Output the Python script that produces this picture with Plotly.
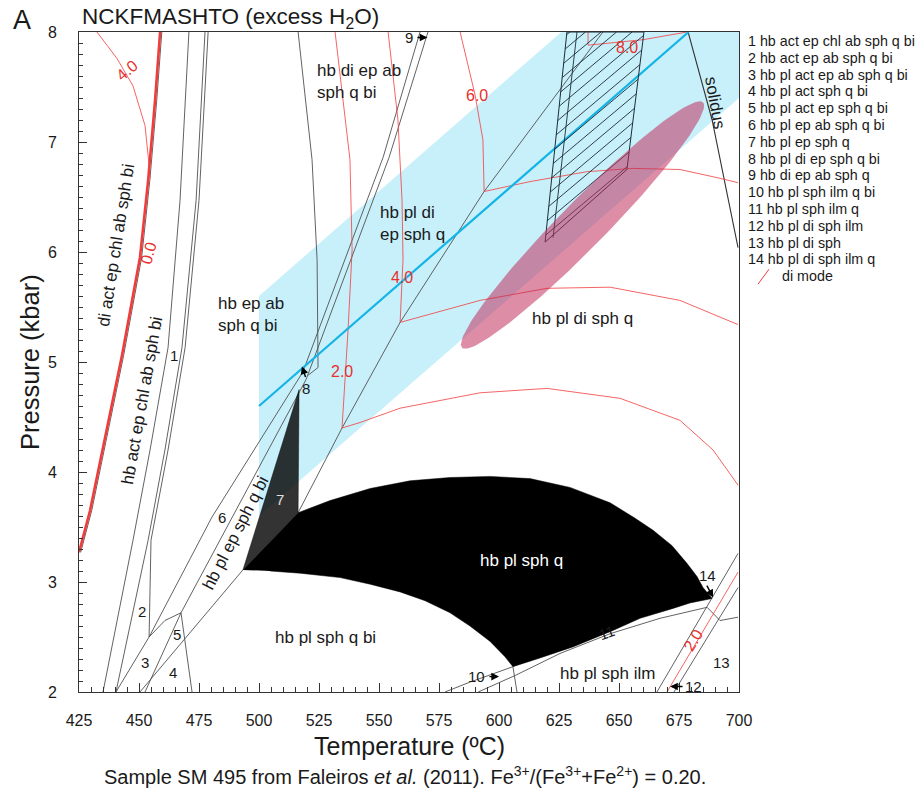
import numpy as np
import plotly.graph_objects as go

FONT = "Liberation Sans, Arial, sans-serif"

# ---------------- axes ----------------
T_MIN, T_MAX = 425, 700
P_MIN, P_MAX = 2, 8
T_TICKS = list(range(425, 701, 25))
P_TICKS = [2, 3, 4, 5, 6, 7, 8]

W, H = 922, 790
MARGIN = dict(l=79, r=183, t=32, b=98, pad=0)
PX_PER_T = (W - MARGIN["l"] - MARGIN["r"]) / (T_MAX - T_MIN)
PX_PER_P = (H - MARGIN["t"] - MARGIN["b"]) / (P_MAX - P_MIN)

# ---------------- shaded P-T band and its centre line ----------------
BAND_T = [500, 626, 700, 700, 500]
BAND_P = [5.6, 8.0, 8.0, 7.4, 3.6]
BAND_AXIS_T = [500, 679]
BAND_AXIS_P = [4.6, 8.0]

# ---------------- hb pl sph q field (black) ----------------
HPSQ_T = [493.3, 516.3, 529.6, 546.3, 562.9, 579.6, 596.3, 612.9, 629.6, 646.3, 656.7, 664.2, 672.1,
          678.3, 682.5, 685.0, 688.8,
          679.6, 672.5, 658.8, 647.5, 630.8, 617.1, 605.8,
          602.5, 596.3, 587.9, 579.6, 569.2, 558.8, 546.3, 533.8, 517.1, 504.6]
HPSQ_P = [3.11, 3.63, 3.74, 3.85, 3.92, 3.95, 3.96, 3.94, 3.86, 3.72, 3.58, 3.47, 3.33,
          3.17, 3.05, 2.95, 2.85,
          2.81, 2.76, 2.67, 2.56, 2.41, 2.31, 2.23,
          2.32, 2.46, 2.60, 2.72, 2.83, 2.91, 2.98, 3.04, 3.08, 3.10]

# field 7 (hb pl ep sph q)
F7_T = [493.3, 516.7, 516.3]
F7_P = [3.11, 4.75, 3.63]

# hatched field
HATCH_T = [628.3, 660.4, 653.3, 619.2]
HATCH_P = [8.0, 8.0, 6.75, 6.09]
HATCH_INNER_T = [632.5, 622.5]
HATCH_INNER_P = [8.0, 6.13]

# ellipse (long-axis end points)
ELL_END_T = [584.6, 685.0]
ELL_END_P = [5.13, 7.36]
ELL_HALF_WIDTH_PX = 23

# ---------------- phase boundaries ----------------
LA_T = [470.8, 467.1, 462.1, 454.6, 447.5, 435.0]
LA_P = [8.0, 6.47, 5.13, 4.20, 3.38, 2.0]
LB_T = [477.5, 473.8, 467.9, 460.8, 453.8, 440.4]
LB_P = [8.0, 6.47, 5.13, 4.20, 3.38, 2.0]
LC_T = [478.8, 475.0, 469.2, 462.1, 455.0, 454.2]
LC_P = [8.0, 6.47, 5.13, 4.20, 3.38, 2.5]
E1_T = [440.4, 454.2, 480.4, 518.3, 551.7, 567.1]
E1_P = [2.0, 2.5, 3.59, 4.91, 6.86, 8.0]
E2_T = [467.5, 488.8, 519.6, 554.2, 570.4]
E2_P = [2.72, 3.59, 4.84, 6.86, 8.0]
E3_T = [450.4, 493.3]
E3_P = [2.0, 3.11]
F1_T = [454.2, 460.8, 467.5]
F1_P = [2.5, 2.65, 2.72]
F2_T = [452.5, 467.5]
F2_P = [2.0, 2.72]
F3_T = [467.5, 472.1]
F3_P = [2.72, 2.0]
TOP_T = [516.3, 522.1, 524.2, 524.6, 520.5]
TOP_P = [8.0, 6.84, 5.93, 4.95, 4.88]
G_T = [516.3, 534.6, 558.8, 593.8, 643.3]
G_P = [3.63, 4.40, 5.36, 6.55, 8.0]
SOLIDUS_T = [678.8, 688.8, 699.6]
SOLIDUS_P = [8.0, 7.2, 6.04]
L11_T = [686.7, 667.1, 646.3, 625.4, 606.7, 591.3]
L11_P = [2.77, 2.67, 2.53, 2.35, 2.15, 2.0]
L10_T = [605.8, 587.9, 577.5]
L10_P = [2.23, 2.09, 2.0]
LV_T = [605.8, 607.5]
LV_P = [2.23, 2.0]
G1_T = [665.8, 699.6]
G1_P = [2.0, 3.26]
G2_T = [672.9, 699.6]
G2_P = [2.0, 2.95]
L13_T = [686.7, 692.1, 699.6]
L13_P = [2.77, 2.65, 2.68]

# ---------------- di mode contours ----------------
DI00_T = [458.8, 456.7, 453.8, 450.4, 442.9, 435.8, 429.6, 425.0]
DI00_P = [8.0, 7.38, 6.65, 5.95, 5.06, 4.29, 3.65, 3.27]
DI40A_T = [432.5, 440.8, 447.5, 452.5, 454.2, 454.6]
DI40A_P = [8.0, 7.76, 7.51, 7.15, 6.79, 6.67]
DI20_T = [531.7, 537.9, 538.8, 537.1, 534.6, 542.1, 558.8, 592.1, 620.0, 650.4, 675.4, 689.2, 699.6]
DI20_P = [8.0, 6.84, 6.02, 5.29, 4.40, 4.45, 4.58, 4.72, 4.76, 4.67, 4.47, 4.20, 3.88]
DI40_T = [553.8, 557.9, 559.6, 560.0, 558.8, 592.1, 620.0, 646.3, 675.4, 699.6]
DI40_P = [8.0, 7.2, 6.47, 5.93, 5.36, 5.56, 5.67, 5.68, 5.56, 5.34]
DI60_T = [583.8, 590.0, 593.3, 593.8, 612.9, 636.7, 655.8, 675.4, 692.1, 699.6]
DI60_P = [8.0, 7.43, 7.02, 6.55, 6.64, 6.73, 6.76, 6.75, 6.67, 6.63]
DI80_T = [637.1, 637.1, 660.0, 678.3]
DI80_P = [8.0, 7.88, 7.93, 8.0]
DI20B_T = [670.0, 699.6]
DI20B_P = [2.0, 3.09]

LEGEND_ITEMS = ["hb act ep chl ab sph q bi", "hb act ep ab sph q bi", "hb pl act ep ab sph q bi",
                "hb pl act sph q bi", "hb pl act ep sph q bi", "hb pl ep ab sph q bi",
                "hb pl ep sph q", "hb pl di ep sph q bi", "hb di ep ab sph q",
                "hb pl sph ilm q bi", "hb pl sph ilm q", "hb pl di sph ilm",
                "hb pl di sph", "hb pl di sph ilm q"]

BLUE_FILL = "#c8f0fa"
CYAN = "#14b4e6"
PINK = "rgba(190,40,86,0.53)"
GRAY = "#505050"
RED = "#f23c3c"
RED_TXT = "#e8302c"
HATCH_COL = "#1c2c38"
TXT = "#1a1a1a"

# hatch geometry (screen space)
HATCH_ANGLE_DEG = 40
HATCH_GAP_PX = 10

fig = go.Figure()


def poly(t, p, fill, line_color=None, width=0):
    fig.add_trace(go.Scatter(x=t, y=p, mode="lines", fill="toself", fillcolor=fill,
                             line=dict(color=line_color or fill, width=width),
                             hoverinfo="skip", showlegend=False))


def line(t, p, color=GRAY, width=0.9):
    fig.add_trace(go.Scatter(x=t, y=p, mode="lines", line=dict(color=color, width=width),
                             hoverinfo="skip", showlegend=False))


def ellipse_path(tt, pp, half_w, n=160):
    x0, x1 = tt[0] * PX_PER_T, tt[1] * PX_PER_T
    y0, y1 = pp[0] * PX_PER_P, pp[1] * PX_PER_P
    cx, cy = (x0 + x1) / 2, (y0 + y1) / 2
    a = np.hypot(x1 - x0, y1 - y0) / 2
    ang = np.arctan2(y1 - y0, x1 - x0)
    s = np.linspace(0, 2 * np.pi, n)
    xs = cx + a * np.cos(s) * np.cos(ang) - half_w * np.sin(s) * np.sin(ang)
    ys = cy + a * np.cos(s) * np.sin(ang) + half_w * np.sin(s) * np.cos(ang)
    return xs / PX_PER_T, ys / PX_PER_P


def hatch_segments(tt, pp, angle_deg, gap):
    """Parallel lines clipped to a convex polygon, spaced evenly on screen."""
    px = np.array(tt) * PX_PER_T
    py = np.array(pp) * PX_PER_P
    th = np.radians(angle_deg)
    nx, ny = -np.sin(th), np.cos(th)
    proj = px * nx + py * ny
    xs, ys = [], []
    c = proj.min() + gap / 2
    n = len(px)
    while c < proj.max():
        hits = []
        for i in range(n):
            a0, a1 = proj[i] - c, proj[(i + 1) % n] - c
            if a0 == a1 or a0 * a1 > 0:
                continue
            f = a0 / (a0 - a1)
            hits.append((px[i] + f * (px[(i + 1) % n] - px[i]), py[i] + f * (py[(i + 1) % n] - py[i])))
        if len(hits) >= 2:
            hits.sort()
            xs += [hits[0][0] / PX_PER_T, hits[-1][0] / PX_PER_T, None]
            ys += [hits[0][1] / PX_PER_P, hits[-1][1] / PX_PER_P, None]
        c += gap
    return xs, ys


# background band
poly(BAND_T, BAND_P, BLUE_FILL)

# boundaries
for t, p in [(LA_T, LA_P), (LB_T, LB_P), (LC_T, LC_P), (E1_T, E1_P), (E2_T, E2_P), (E3_T, E3_P),
             (F1_T, F1_P), (F2_T, F2_P), (F3_T, F3_P), (TOP_T, TOP_P), (G_T, G_P),
             (L11_T, L11_P), (L10_T, L10_P), (LV_T, LV_P), (G1_T, G1_P), (G2_T, G2_P),
             (L13_T, L13_P)]:
    line(t, p)
line(SOLIDUS_T, SOLIDUS_P, "#333333", 1.1)
line([v + 0.7 for v in DI00_T], DI00_P, GRAY, 0.9)

# di mode contours
for t, p in [(DI40A_T, DI40A_P), (DI20_T, DI20_P), (DI40_T, DI40_P), (DI60_T, DI60_P),
             (DI80_T, DI80_P), (DI20B_T, DI20B_P)]:
    line(t, p, RED, 0.8)
line(DI00_T, DI00_P, RED, 2.6)

# centre line of band
line(BAND_AXIS_T, BAND_AXIS_P, CYAN, 2.2)

# hatched field
hx, hy = hatch_segments(HATCH_T, HATCH_P, HATCH_ANGLE_DEG, HATCH_GAP_PX)
line(hx, hy, HATCH_COL, 0.9)
line(HATCH_T + HATCH_T[:1], HATCH_P + HATCH_P[:1], HATCH_COL, 1.0)
line(HATCH_INNER_T, HATCH_INNER_P, HATCH_COL, 0.9)

# ellipse
ex, ey = ellipse_path(ELL_END_T, ELL_END_P, ELL_HALF_WIDTH_PX)
poly(list(ex), list(ey), PINK)

# black fields
poly(HPSQ_T, HPSQ_P, "black", "black", 0.5)
poly(F7_T, F7_P, "rgba(0,0,0,0.8)", "rgba(0,0,0,0.8)", 0.5)


def label(text, t, p, size=17, color=TXT, angle=0, xanchor="center", align="center"):
    fig.add_annotation(x=t, y=p, text=text, showarrow=False, textangle=angle, xanchor=xanchor,
                       yanchor="middle", align=align, font=dict(family=FONT, size=size, color=color))


def arrow(t0, p0, t1, p1):
    fig.add_annotation(x=t1, y=p1, ax=t0, ay=p0, axref="x", ayref="y", text="", showarrow=True,
                       arrowhead=2, arrowsize=1.1, arrowwidth=1.4, arrowcolor="black")


# field labels
label("hb di ep ab<br>sph q bi", 523.3, 7.55, xanchor="left", align="left")
label("hb pl di<br>ep sph q", 549.6, 6.26, xanchor="left", align="left")
label("hb ep ab<br>sph q bi", 482.1, 5.43, xanchor="left", align="left")
label("hb pl di sph q", 634.6, 5.40)
label("hb pl sph q", 609.2, 3.20, color="white")
label("hb pl sph q bi", 527.5, 2.50)
label("hb pl sph ilm", 645.0, 2.17)
label("di act ep chl ab sph bi", 440.4, 6.06, angle=-81)
label("hb act ep chl ab sph bi", 451.3, 4.65, angle=-80)
label("hb pl ep sph q bi", 490.4, 3.45, angle=-63)
label("solidus", 690.0, 7.36, angle=80)

# numbered fields
for txt, t, p in [("1", 464.6, 5.06), ("2", 451.3, 2.73), ("3", 452.5, 2.27), ("4", 464.2, 2.18),
                  ("5", 465.8, 2.52), ("6", 484.6, 3.59), ("8", 519.6, 4.76), ("9", 562.5, 7.95),
                  ("10", 590.5, 2.14), ("12", 681.0, 2.05), ("13", 692.9, 2.27),
                  ("14", 686.7, 3.06)]:
    label(txt, t, p, size=15)
label("7", 508.8, 3.75, size=15, color="#e0e0e0")
label("11", 645.0, 2.54, size=15, angle=-20)

arrow(519.6, 4.85, 517.9, 4.96)
arrow(565.4, 7.95, 570.2, 7.95)
arrow(595.4, 2.14, 600.0, 2.14)
arrow(677.1, 2.05, 671.3, 2.05)
arrow(686.3, 2.98, 689.2, 2.86)

# di mode labels
label("4.0", 445.0, 7.65, size=16, color=RED_TXT, angle=-40)
label("0.0", 453.8, 5.99, size=16, color=RED_TXT, angle=-75)
label("2.0", 534.6, 4.91, size=16, color=RED_TXT)
label("4.0", 559.6, 5.77, size=16, color=RED_TXT)
label("6.0", 590.8, 7.42, size=16, color=RED_TXT)
label("8.0", 653.3, 7.86, size=16, color=RED_TXT)
label("2.0", 680.8, 2.47, size=16, color=RED_TXT, angle=-59)

# legend on the right
LEG_X = 746
LEG_Y0, LEG_DY = 41, 16.8
plot_w = W - MARGIN["l"] - MARGIN["r"]
plot_h = H - MARGIN["t"] - MARGIN["b"]


def px_to_paper(xp, yp):
    return (xp - MARGIN["l"]) / plot_w, 1 - (yp - MARGIN["t"]) / plot_h


def paper_text(text, xp, yp, size, xanchor="center", angle=0, **kw):
    x, y = px_to_paper(xp, yp)
    fig.add_annotation(x=x, y=y, xref="paper", yref="paper", text=text, showarrow=False,
                       xanchor=xanchor, yanchor="middle", textangle=angle,
                       font=dict(family=FONT, size=size, color=TXT), **kw)


for i, item in enumerate(LEGEND_ITEMS):
    paper_text(f"{i + 1} {item}", LEG_X, LEG_Y0 + i * LEG_DY, 14.3, xanchor="left")
paper_text("di mode", 780, LEG_Y0 + 14 * LEG_DY, 14.3, xanchor="left")
x0, y0 = px_to_paper(758, LEG_Y0 + 14 * LEG_DY + 8)
x1, y1 = px_to_paper(769, LEG_Y0 + 14 * LEG_DY - 7)
fig.add_shape(type="line", xref="paper", yref="paper", x0=x0, y0=y0, x1=x1, y1=y1,
              line=dict(color=RED, width=1))

# titles
paper_text("A", 22, 20, 27)
paper_text("NCKFMASHTO (excess H<sub>2</sub>O)", 80, 18, 22.5, xanchor="left")
paper_text("Temperature (ºC)", 409, 746, 25)
paper_text("Sample SM 495 from Faleiros <i>et al.</i> (2011). "
           "Fe<sup>3+</sup>/(Fe<sup>3+</sup>+Fe<sup>2+</sup>) = 0.20.", 405, 775, 20)
paper_text("Pressure (kbar)", 30, 362, 25.5, angle=-90)

fig.update_layout(
    width=W, height=H, margin=MARGIN, plot_bgcolor="white", paper_bgcolor="white",
    showlegend=False,
    xaxis=dict(range=[T_MIN, T_MAX], tickvals=T_TICKS, ticks="inside", ticklen=9, tickcolor="#333",
               minor=dict(dtick=5, ticks="inside", ticklen=5, tickcolor="#333"),
               showline=True, mirror=True, linecolor="#333", linewidth=1, showgrid=False, zeroline=False,
               ticklabelstandoff=14, tickfont=dict(family=FONT, size=16, color=TXT)),
    yaxis=dict(range=[P_MIN, P_MAX], tickvals=P_TICKS, ticks="inside", ticklen=8, tickcolor="#333",
               minor=dict(dtick=0.1, ticks="inside", ticklen=4, tickcolor="#333"),
               showline=True, mirror=True, linecolor="#333", linewidth=1, showgrid=False, zeroline=False,
               ticklabelstandoff=18, tickfont=dict(family=FONT, size=16, color=TXT)),
)

fig.write_html("out.html")
